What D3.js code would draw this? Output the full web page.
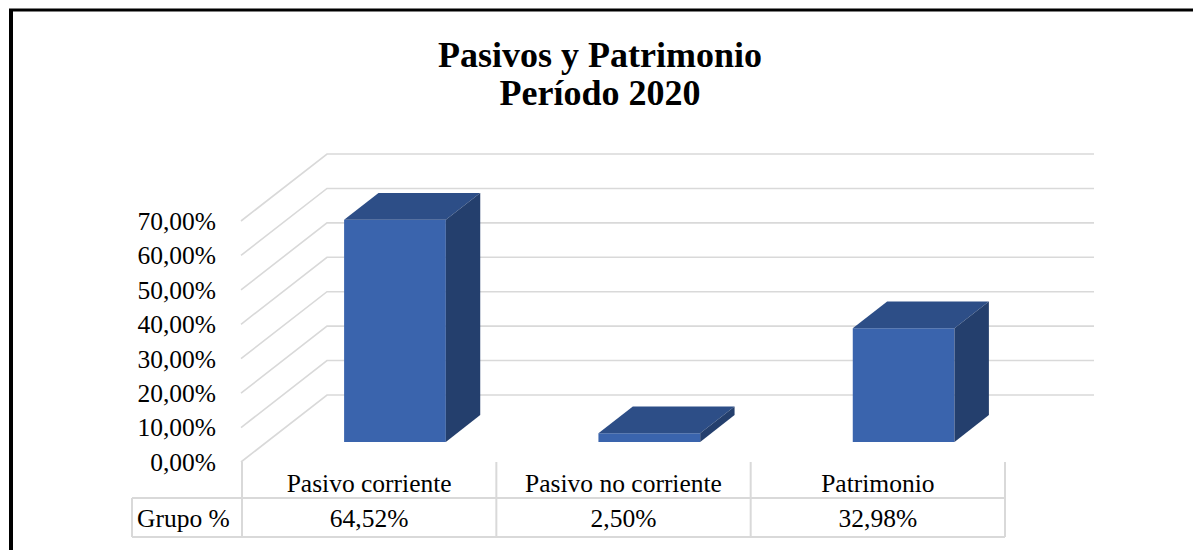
<!DOCTYPE html>
<html lang="es">
<head>
<meta charset="utf-8">
<title>Pasivos y Patrimonio - Período 2020</title>
<script src="https://d3js.org/d3.v7.min.js"></script>
<style>
  body { margin: 0; background: #fff; }
  text { font-family: "Liberation Serif", "Times New Roman", serif; fill: #000; }
</style>
</head>
<body>
<div id="chart"></div>
<script>
// data
const titleLines = ["Pasivos y Patrimonio", "Período 2020"];
const categories = ["Pasivo corriente", "Pasivo no corriente", "Patrimonio"];
const values = [0.6452, 0.025, 0.3298];
const seriesName = "Grupo %";
const yTicks = [0, 0.1, 0.2, 0.3, 0.4, 0.5, 0.6, 0.7];

const width = 1193, height = 550;
const DX = 86, DY = 67;          // floor depth offset (3d)
const T0 = 0.3, T1 = 0.7;        // bar depth position
const gridCol = "#d9d9d9";
const fs = "25.5px";

const locale = d3.formatLocale({decimal: ",", thousands: ".", grouping: [3], currency: ["", ""]});
const pct = locale.format(".2%");

const svg = d3.select("#chart").append("svg")
  .attr("width", width).attr("height", height);

// frame
svg.append("line").attr("x1", 11).attr("x2", 11).attr("y1", 9).attr("y2", height)
  .attr("stroke", "#000").attr("stroke-width", 4);
svg.append("line").attr("x1", 9).attr("x2", width).attr("y1", 10).attr("y2", 10)
  .attr("stroke", "#000").attr("stroke-width", 3);

// title
svg.append("text")
  .attr("x", 600).attr("text-anchor", "middle")
  .style("font-weight", "bold").style("font-size", "36px")
  .selectAll("tspan").data(titleLines).join("tspan")
  .attr("x", 600).attr("y", (d, i) => 67 + i * 38)
  .text(d => d);

// scales
const x = d3.scaleBand().domain(categories).range([242, 1005])
  .paddingInner(0.6).paddingOuter(0.3);
const y = d3.scaleLinear().domain([0, 0.7]).range([462, 221]);

const p = (px, v, t) => [px + DX * t, y(v) - DY * t];
const xL = x.range()[0], xR = x.range()[1];

// gridlines (side wall diagonal + back wall)
svg.append("g").selectAll("path").data(yTicks).join("path")
  .attr("fill", "none").attr("stroke", gridCol).attr("stroke-width", 1.6)
  .attr("d", v => d3.line()([p(xL - 1, v, 0), p(xL - 1, v, 1), p(xR + 3, v, 1)]));

// y labels
svg.append("g").selectAll("text").data(yTicks).join("text")
  .attr("x", 216).attr("y", v => y(v)).attr("dy", "0.35em")
  .attr("text-anchor", "end").style("font-size", fs)
  .text(v => pct(v));

// bars
const bars = svg.append("g").selectAll("g").data(categories).join("g");
const bw = x.bandwidth();
bars.append("path").attr("fill", "#3a64ad")
  .attr("d", (c, i) => d3.line()([p(x(c), values[i], T0), p(x(c) + bw, values[i], T0),
    p(x(c) + bw, 0, T0), p(x(c), 0, T0)]) + "Z");
bars.append("path").attr("fill", "#2d4e87")
  .attr("d", (c, i) => d3.line()([p(x(c), values[i], T0), p(x(c) + bw, values[i], T0),
    p(x(c) + bw, values[i], T1), p(x(c), values[i], T1)]) + "Z");
bars.append("path").attr("fill", "#243f6d")
  .attr("d", (c, i) => d3.line()([p(x(c) + bw, values[i], T0), p(x(c) + bw, values[i], T1),
    p(x(c) + bw, 0, T1), p(x(c) + bw, 0, T0)]) + "Z");

// data table
const step = x.step();
const tTop = 498, tBot = 537, tLeft = 132;
const tbl = svg.append("g").attr("stroke", gridCol).attr("stroke-width", 2);
tbl.selectAll("line.v").data(d3.range(categories.length + 1)).join("line")
  .attr("x1", i => xL + i * step).attr("x2", i => xL + i * step)
  .attr("y1", y(0)).attr("y2", tBot);
tbl.append("line").attr("x1", tLeft).attr("x2", tLeft).attr("y1", tTop).attr("y2", tBot);
tbl.selectAll("line.h").data([tTop, tBot]).join("line")
  .attr("x1", tLeft).attr("x2", xR).attr("y1", d => d).attr("y2", d => d);

svg.append("g").selectAll("text").data(categories).join("text")
  .attr("x", (c, i) => xL + (i + 0.5) * step).attr("y", 492)
  .attr("text-anchor", "middle").style("font-size", fs)
  .text(c => c);
svg.append("g").selectAll("text").data(values).join("text")
  .attr("x", (v, i) => xL + (i + 0.5) * step).attr("y", 527)
  .attr("text-anchor", "middle").style("font-size", fs)
  .text(v => pct(v));
svg.append("text").attr("x", 137).attr("y", 527).style("font-size", fs).text(seriesName);
</script>
</body>
</html>
